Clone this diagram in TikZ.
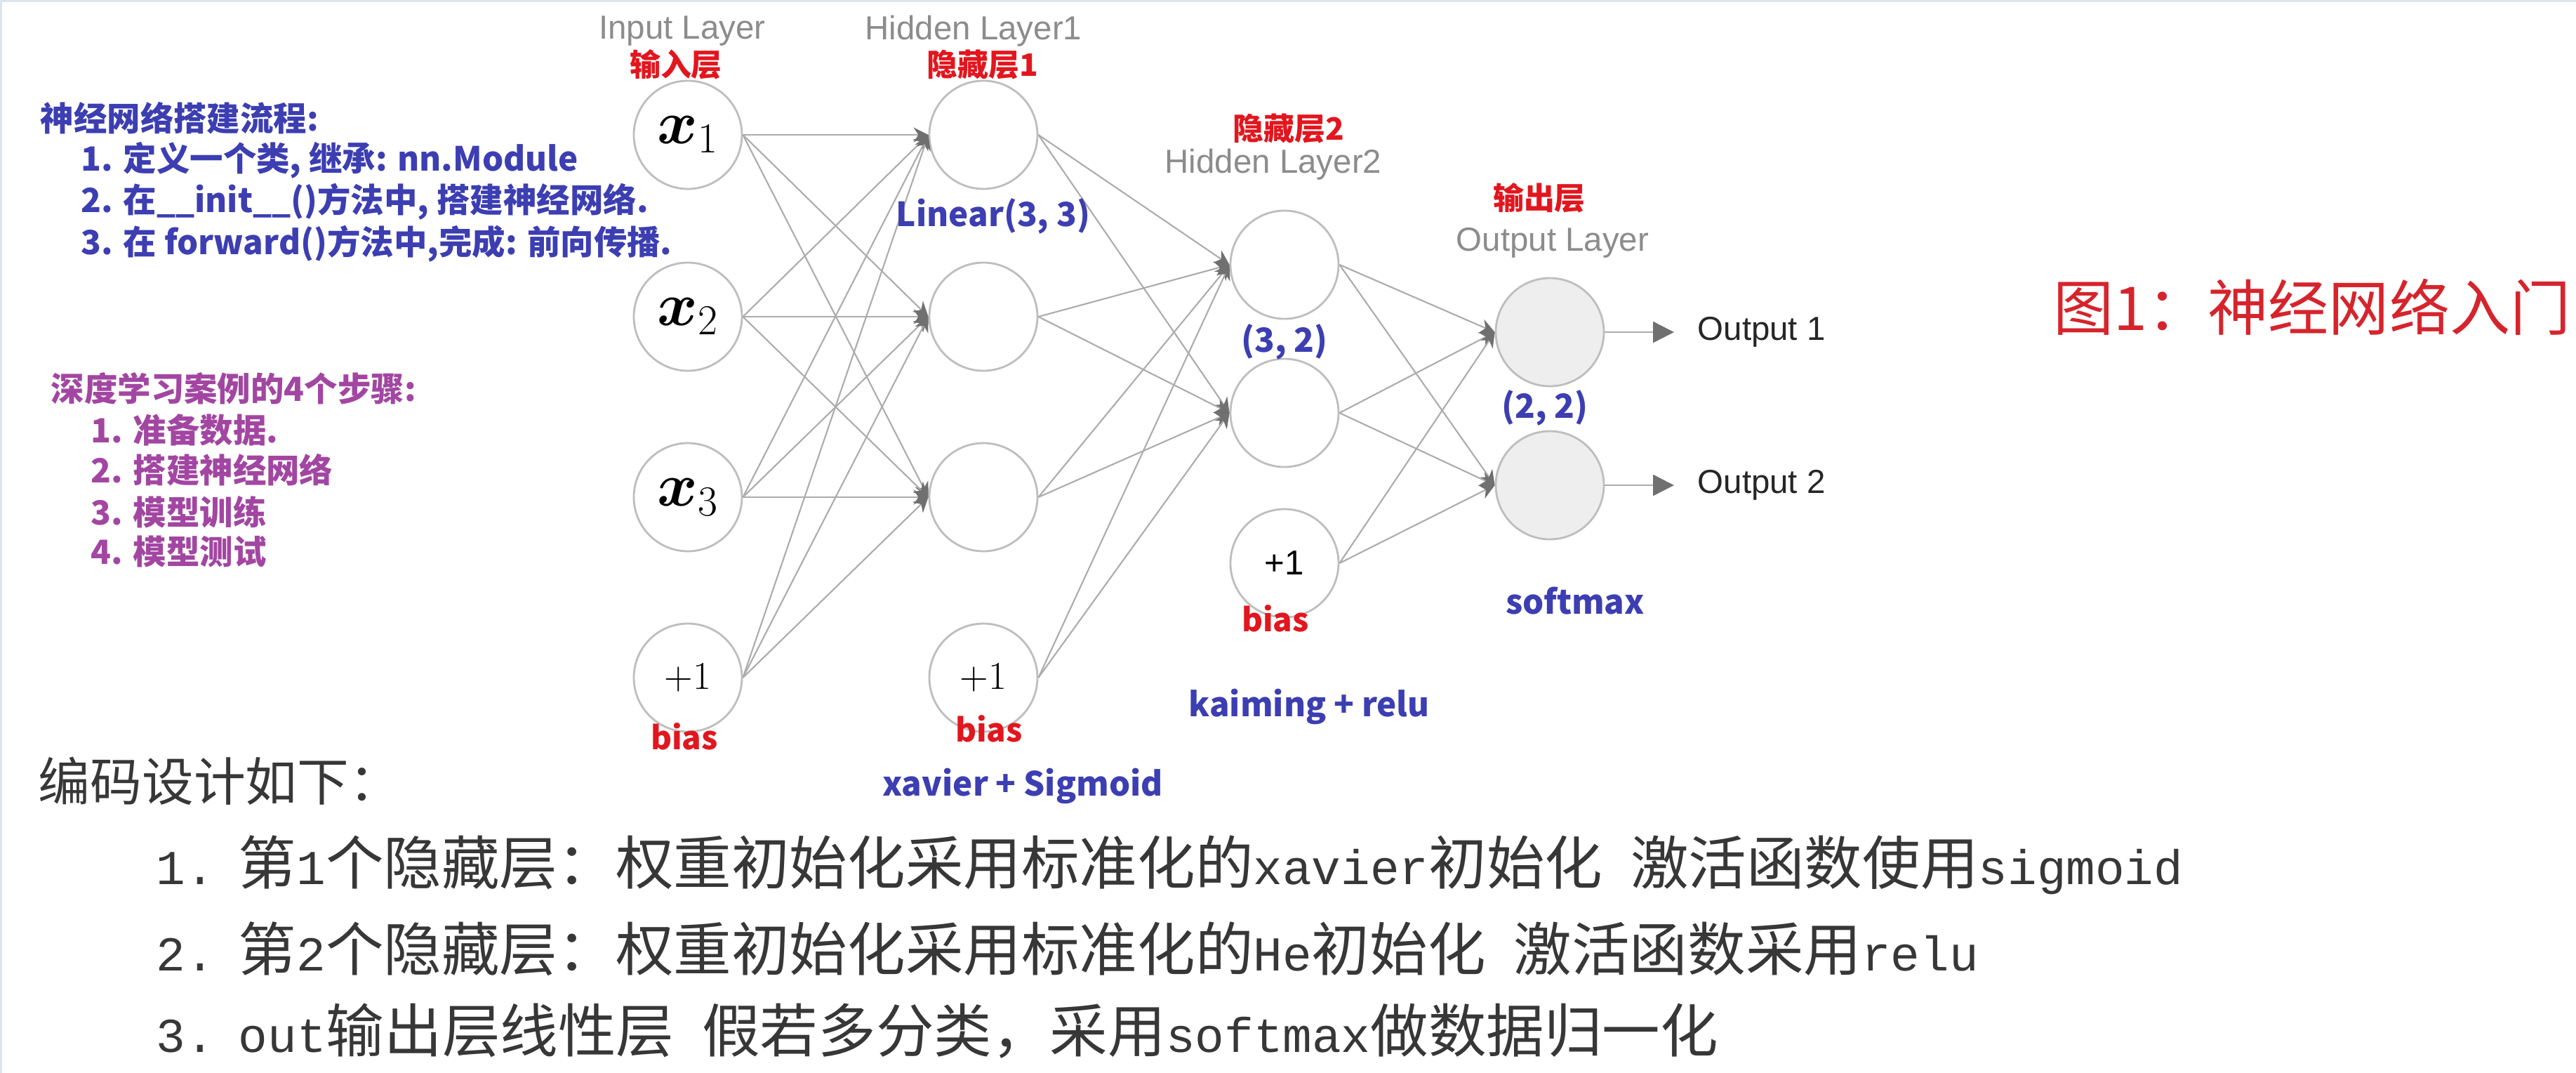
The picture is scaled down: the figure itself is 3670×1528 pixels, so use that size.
\documentclass[tikz,border=0pt]{standalone}
\usepackage{bm}
\usepackage{fontspec}
\usetikzlibrary{arrows.meta}
\newfontfamily\cjk{Noto Sans CJK SC}
\newfontfamily\helv{Liberation Sans}
\newfontfamily\codefont{Liberation Mono}[Scale=0.84]
\definecolor{ringgray}{RGB}{190,190,190}
\definecolor{linegray}{RGB}{172,172,172}
\definecolor{tipgray}{RGB}{112,112,112}
\definecolor{labgray}{RGB}{140,140,140}
\definecolor{outfill}{RGB}{238,238,238}
\definecolor{cnred}{RGB}{226,22,30}
\definecolor{titlered}{RGB}{214,36,44}
\definecolor{noteblue}{RGB}{60,62,178}
\definecolor{notepurple}{RGB}{162,70,162}
\definecolor{codegray}{RGB}{55,55,55}
\definecolor{framegray}{RGB}{222,228,238}

\begin{document}
\begin{tikzpicture}[x=0.1mm,y=-0.1mm,
  neuron/.style={circle,draw=ringgray,line width=0.8pt,fill=white,minimum size=15.4mm,inner sep=0pt},
  outneuron/.style={neuron,fill=outfill},
  wire/.style={draw=linegray,line width=0.6pt,-{Stealth[length=6pt,width=6pt,color=tipgray]}},
  outwire/.style={draw=linegray,line width=0.7pt,-{Triangle[length=8.5pt,width=8.5pt,color=tipgray]}},
  layername/.style={text=labgray,font=\helv\fontsize{13.5}{16}\selectfont},
  cnlabel/.style={text=cnred,font=\cjk\bfseries\fontsize{12.5}{15}\selectfont},
  biaslabel/.style={text=cnred,font=\cjk\bfseries\fontsize{13}{15}\selectfont},
  shapelabel/.style={text=noteblue,font=\cjk\bfseries\fontsize{13.5}{16}\selectfont},
  steplist/.style={anchor=west,inner sep=0pt,font=\cjk\bfseries\fontsize{13.5}{16}\selectfont},
  codeline/.style={anchor=west,inner sep=0pt,text=codegray,font=\cjk\fontsize{23.5}{27}\selectfont},
  outname/.style={anchor=west,inner sep=0pt,text=black!85,font=\helv\fontsize{13.5}{16}\selectfont}]
\useasboundingbox (0,0) rectangle (3670,1528);
\fill[white] (0,0) rectangle (3670,1528);
\draw[framegray,line width=0.9pt] (1.5,1528) -- (1.5,1.5) -- (3670,1.5);

% network
\node[neuron,font=\fontsize{24}{28}\selectfont] (in1) at (980,192) {$\bm{x}_1$};
\node[neuron,font=\fontsize{24}{28}\selectfont] (in2) at (980,451) {$\bm{x}_2$};
\node[neuron,font=\fontsize{24}{28}\selectfont] (in3) at (980,708) {$\bm{x}_3$};
\node[neuron,font=\fontsize{16}{18}\selectfont] (inb) at (980,965) {+1};
\node[neuron] (ha1) at (1401,192) {};
\node[neuron] (ha2) at (1401,451) {};
\node[neuron] (ha3) at (1401,708) {};
\node[neuron,font=\fontsize{16}{18}\selectfont] (hab) at (1401,965) {+1};
\node[neuron] (hb1) at (1830,377) {};
\node[neuron] (hb2) at (1830,588) {};
\node[neuron,font=\helv\fontsize{14}{16}\selectfont] (hbb) at (1830,802) {+1};
\node[outneuron] (out1) at (2208,473) {};
\node[outneuron] (out2) at (2208,691) {};

\draw[wire] (in1.east) -- (ha1.west);
\draw[wire] (in1.east) -- (ha2.west);
\draw[wire] (in1.east) -- (ha3.west);
\draw[wire] (in2.east) -- (ha1.west);
\draw[wire] (in2.east) -- (ha2.west);
\draw[wire] (in2.east) -- (ha3.west);
\draw[wire] (in3.east) -- (ha1.west);
\draw[wire] (in3.east) -- (ha2.west);
\draw[wire] (in3.east) -- (ha3.west);
\draw[wire] (inb.east) -- (ha1.west);
\draw[wire] (inb.east) -- (ha2.west);
\draw[wire] (inb.east) -- (ha3.west);
\draw[wire] (ha1.east) -- (hb1.west);
\draw[wire] (ha1.east) -- (hb2.west);
\draw[wire] (ha2.east) -- (hb1.west);
\draw[wire] (ha2.east) -- (hb2.west);
\draw[wire] (ha3.east) -- (hb1.west);
\draw[wire] (ha3.east) -- (hb2.west);
\draw[wire] (hab.east) -- (hb1.west);
\draw[wire] (hab.east) -- (hb2.west);
\draw[wire] (hb1.east) -- (out1.west);
\draw[wire] (hb1.east) -- (out2.west);
\draw[wire] (hb2.east) -- (out1.west);
\draw[wire] (hb2.east) -- (out2.west);
\draw[wire] (hbb.east) -- (out1.west);
\draw[wire] (hbb.east) -- (out2.west);

\node[outname] (res1) at (2418,473) {Output 1};
\node[outname] (res2) at (2418,691) {Output 2};
\draw[outwire,shorten >=3.3mm] (out1.east) -- (res1.west);
\draw[outwire,shorten >=3.3mm] (out2.east) -- (res2.west);

% layer names
\node[layername] (inname) at (972,44) {Input Layer};
\node[cnlabel] (incn) at (963,92) {输入层};
\node[layername] (haname) at (1387,44) {Hidden Layer1};
\node[cnlabel] (hacn) at (1400,92) {隐藏层1};
\node[cnlabel] (hbcn) at (1836,183) {隐藏层2};
\node[layername] (hbname) at (1814,234) {Hidden Layer2};
\node[cnlabel] (outcn) at (2193,282) {输出层};
\node[layername] (outlayer) at (2212,346) {Output Layer};

\node[biaslabel] (inbias) at (975,1049) {bias};
\node[biaslabel] (habias) at (1409,1038) {bias};
\node[biaslabel] (hbbias) at (1817,881) {bias};

\node[shapelabel] (lin) at (1415,308) {Linear(3, 3)};
\node[shapelabel] (hbshape) at (1830,487) {(3, 2)};
\node[shapelabel] (outshape) at (2201,581) {(2, 2)};
\node[shapelabel] (act1) at (1457,1119) {xavier + Sigmoid};
\node[shapelabel] (act2) at (1865,1006) {kaiming + relu};
\node[shapelabel] (act3) at (2244,856) {softmax};

\node[anchor=west,inner sep=0pt,text=titlered,font=\cjk\fontsize{24.5}{28}\selectfont] (title) at (2925,437) {图1：神经网络入门};

% notes on the left
\node[steplist,text=noteblue] (build) at (57,168) {神经网络搭建流程:};
\node[steplist,text=noteblue] (build1) at (115,228) {1. 定义一个类, 继承: nn.Module};
\node[steplist,text=noteblue] (build2) at (115,287) {2. 在\_\_init\_\_()方法中, 搭建神经网络.};
\node[steplist,text=noteblue] (build3) at (115,347) {3. 在 forward()方法中,完成: 前向传播.};
\node[steplist,text=notepurple] (dl) at (72,553) {深度学习案例的4个步骤:};
\node[steplist,text=notepurple] (dl1) at (129,612) {1. 准备数据.};
\node[steplist,text=notepurple] (dl2) at (129,669) {2. 搭建神经网络};
\node[steplist,text=notepurple] (dl3) at (129,729) {3. 模型训练};
\node[steplist,text=notepurple] (dl4) at (129,786) {4. 模型测试};

% coding plan
\node[codeline,font=\cjk\fontsize{21}{24}\selectfont] (codehead) at (54,1112) {编码设计如下：};
\node[codeline] (code1) at (222,1232) {{\codefont 1.}\hspace{3.4mm}第{\codefont 1}个隐藏层：权重初始化采用标准化的{\codefont xavier}初始化\hspace{4mm}激活函数使用{\codefont sigmoid}};
\node[codeline] (code2) at (222,1351) {{\codefont 2.}\hspace{3.4mm}第{\codefont 2}个隐藏层：权重初始化采用标准化的{\codefont He}初始化\hspace{4mm}激活函数采用{\codefont relu}};
\node[codeline] (code3) at (222,1468) {{\codefont 3.}\hspace{3.4mm}{\codefont out}输出层线性层\hspace{4mm}假若多分类，采用{\codefont softmax}做数据归一化};
\end{tikzpicture}
\end{document}
